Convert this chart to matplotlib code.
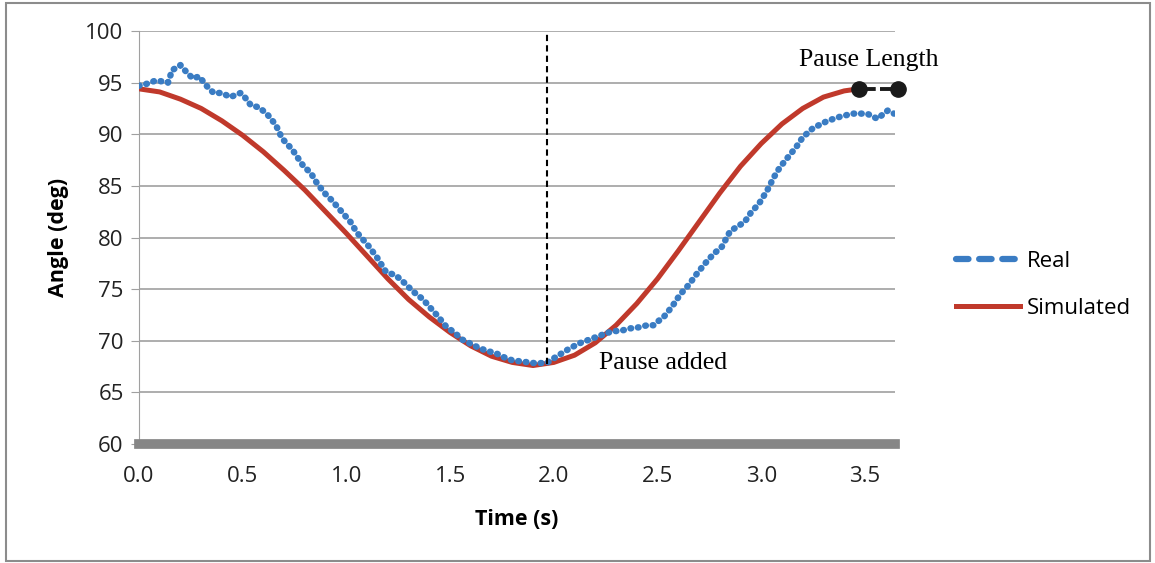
import matplotlib.pyplot as plt
from matplotlib.lines import Line2D
from matplotlib.patches import Rectangle

# simulated joint angle
sim_t = [0.0, 0.1, 0.2, 0.3, 0.4, 0.5, 0.6, 0.7, 0.8, 0.9, 1.0, 1.1, 1.2, 1.3,
         1.4, 1.5, 1.6, 1.7, 1.8, 1.9, 2.0, 2.1, 2.2, 2.3, 2.4, 2.5, 2.6, 2.7,
         2.8, 2.9, 3.0, 3.1, 3.2, 3.3, 3.4, 3.47]
sim_angle = [94.4, 94.1, 93.4, 92.5, 91.3, 89.9, 88.3, 86.5, 84.6, 82.5, 80.4,
             78.2, 76.0, 74.0, 72.3, 70.8, 69.5, 68.5, 67.9, 67.6, 67.9, 68.6,
             69.8, 71.5, 73.6, 76.0, 78.7, 81.5, 84.3, 86.9, 89.1, 91.0, 92.5,
             93.6, 94.2, 94.4]

# measured joint angle
real_t = [0.00, 0.04, 0.08, 0.12, 0.14, 0.16, 0.20, 0.23, 0.26, 0.29, 0.33, 0.36,
          0.40, 0.44, 0.49, 0.51, 0.54, 0.58, 0.62, 0.66, 0.69, 0.74, 0.79, 0.83,
          0.86, 0.90, 0.93, 0.96, 1.02, 1.05, 1.08, 1.11, 1.15, 1.19, 1.24, 1.28,
          1.32, 1.37, 1.40, 1.44, 1.48, 1.52, 1.56, 1.60, 1.64, 1.68, 1.72, 1.76,
          1.80, 1.84, 1.88, 1.92, 1.97, 2.00, 2.04, 2.08, 2.13, 2.17, 2.21, 2.25,
          2.28, 2.33, 2.37, 2.41, 2.45, 2.48, 2.51, 2.53, 2.57, 2.61, 2.65, 2.69,
          2.73, 2.77, 2.81, 2.85, 2.88, 2.92, 2.95, 2.99, 3.03, 3.06, 3.09, 3.13,
          3.17, 3.20, 3.25, 3.29, 3.32, 3.38, 3.44, 3.51, 3.56, 3.61, 3.64]
real_angle = [94.7, 94.9, 95.2, 95.1, 95.0, 96.2, 96.7, 96.0, 95.4, 95.6, 94.6, 94.0,
              94.0, 93.6, 94.0, 93.6, 92.8, 92.6, 91.9, 90.9, 89.6, 88.5, 87.0, 86.2,
              85.2, 84.2, 83.6, 82.9, 81.5, 80.5, 79.8, 79.1, 78.0, 76.7, 76.3, 75.6,
              74.8, 74.0, 73.3, 72.4, 71.4, 70.8, 70.1, 69.7, 69.3, 69.0, 68.8, 68.4,
              68.1, 68.0, 67.9, 67.8, 67.9, 68.3, 68.8, 69.3, 69.8, 70.1, 70.4, 70.7,
              70.9, 71.0, 71.2, 71.3, 71.5, 71.5, 72.0, 72.3, 73.3, 74.5, 75.4, 76.5,
              77.5, 78.4, 79.1, 80.6, 81.0, 81.5, 82.4, 83.3, 84.6, 85.8, 86.8, 87.8,
              88.8, 89.7, 90.6, 91.0, 91.3, 91.7, 92.0, 92.0, 91.5, 92.3, 92.0]

pause_t = [3.47, 3.66]
pause_angle = [94.4, 94.4]
pause_mark_t = 1.966

blue = "#3a7cc3"
red = "#c0392b"

fig = plt.figure(figsize=(11.55, 5.63), dpi=100)
ax = fig.add_axes([0.1203, 0.2114, 0.7749 - 0.1203, 0.9449 - 0.2114])

ax.plot(sim_t, sim_angle, color=red, lw=3.6, solid_capstyle="round",
        solid_joinstyle="round", zorder=3)
ax.plot(real_t, real_angle, color=blue, lw=4.7, linestyle=(0, (0.1, 1.05)),
        dash_capstyle="round", zorder=4)

# pause markers
ax.plot(pause_t, pause_angle, color="#1a1a1a", lw=2.8, linestyle=(0, (4.3, 1.1)),
        marker="o", markersize=11, clip_on=False, zorder=5)
ax.vlines(pause_mark_t, 67.7, 100, colors="black", linestyles=(0, (3, 2)), lw=1.5, zorder=5)

ax.text(3.52, 97.2, "Pause Length", family="Liberation Serif", fontsize=18.5,
        ha="center", va="center")
ax.text(2.22, 67.8, "Pause added", family="Liberation Serif", fontsize=18.5,
        ha="left", va="center")

ax.set_xlim(0, 3.645)
ax.set_ylim(60, 100)
ax.set_yticks(range(60, 101, 5))
ax.set_xticks([0, 0.5, 1.0, 1.5, 2.0, 2.5, 3.0, 3.5])
ax.set_xticklabels(["0.0", "0.5", "1.0", "1.5", "2.0", "2.5", "3.0", "3.5"])
ax.grid(axis="y", color="#a0a0a0", lw=1.2)
ax.set_axisbelow(True)

for s in ["top", "right"]:
    ax.spines[s].set_visible(False)
ax.spines["left"].set_color("#a0a0a0")
ax.spines["bottom"].set_color("#868686")
ax.spines["bottom"].set_linewidth(7)
ax.tick_params(axis="y", length=6, color="#a0a0a0", labelsize=16, pad=5)
ax.tick_params(axis="x", length=0, labelsize=16, pad=16)
for lab in ax.get_xticklabels() + ax.get_yticklabels():
    lab.set_family("Open Sans")
    lab.set_color("#222222")

ax.set_xlabel("Time (s)", family="Open Sans", fontsize=15.5, fontweight="bold", labelpad=16)
ax.set_ylabel("Angle (deg)", family="Open Sans", fontsize=15.5, fontweight="bold", labelpad=12)

handles = [Line2D([], [], color=blue, lw=4.5, linestyle=(0, (2.0, 1.7)), dash_capstyle="round"),
           Line2D([], [], color=red, lw=3.6)]
fig.legend(handles, ["Real", "Simulated"], loc="center left", bbox_to_anchor=(0.81, 0.494),
           frameon=False, handlelength=2.9, handletextpad=0.3, labelspacing=1.15,
           prop={"family": "Open Sans", "size": 16})

fig.add_artist(Rectangle((0.005, 0.004), 0.991, 0.99, transform=fig.transFigure,
                         fill=False, edgecolor="#8c8c8c", lw=1.5))

fig.savefig("out.png", dpi=100)
